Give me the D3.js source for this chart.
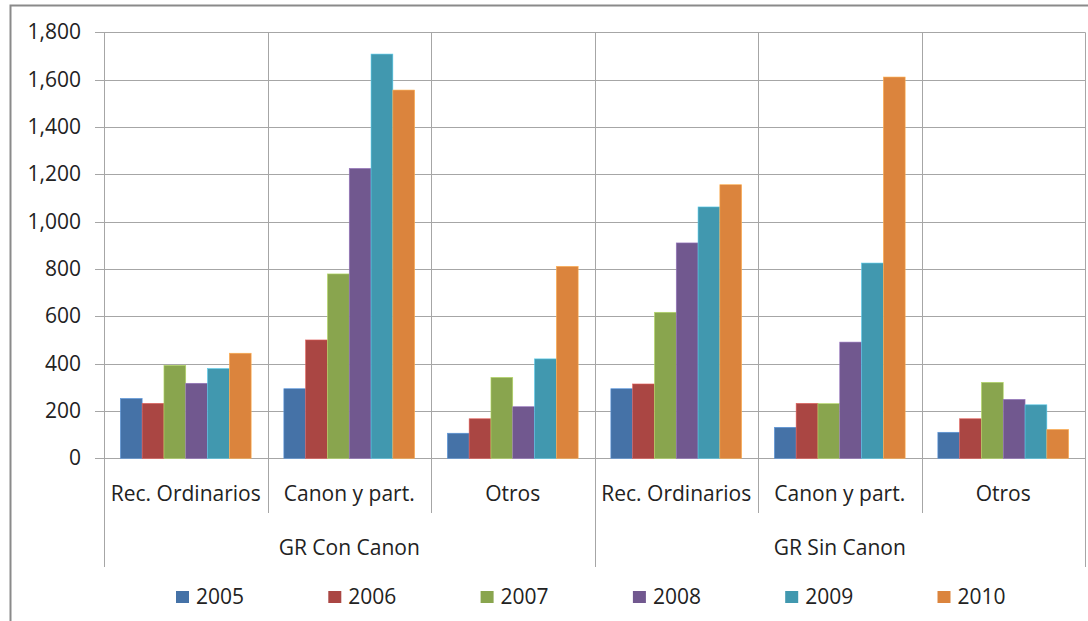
<!DOCTYPE html>
<html>
<head>
<meta charset="utf-8">
<script src="https://cdn.jsdelivr.net/npm/d3@7"></script>
<style>
  body { margin: 0; background: #fff; }
  text { font-family: "Open Sans", sans-serif; fill: #222; }
</style>
</head>
<body>
<div id="chart"></div>
<script>
//data
var groups = ['GR Con Canon', 'GR Sin Canon'];
var subcats = ['Rec. Ordinarios', 'Canon y part.', 'Otros'];
var years = ['2005', '2006', '2007', '2008', '2009', '2010'];
var yTicks = [0, 200, 400, 600, 800, 1000, 1200, 1400, 1600, 1800];

var v2005 = [253, 294, 106, 294, 131, 110];
var v2006 = [232, 500, 167, 314, 232, 167];
var v2007 = [393, 779, 342, 617, 231, 321];
var v2008 = [317, 1225, 218, 910, 491, 249];
var v2009 = [379, 1708, 420, 1062, 825, 226];
var v2010 = [444, 1556, 811, 1156, 1611, 122];
var series = [v2005, v2006, v2007, v2008, v2009, v2010];

var colors = ['#4572A7', '#AA4643', '#89A54E', '#71588F', '#4198AF', '#DB843D'];

//dims
var width = 1088;
var height = 621;
var plotLeft = 104, plotRight = 1085, plotTop = 32.3, plotBottom = 458.3;
var fontSize = '21px';

// one slot per (group, subcat)
var cats = [];
groups.forEach(function(g) {
  subcats.forEach(function(s) { cats.push(g + '|' + s); });
});

var svg = d3.select('#chart')
  .append('svg')
  .attr('width', width)
  .attr('height', height);

// outer frame
svg.append('rect')
  .attr('x', 10.5).attr('y', 5.5)
  .attr('width', 1200).attr('height', 700)
  .attr('fill', 'none')
  .attr('stroke', '#8a8a8a')
  .attr('stroke-width', 2);

var x0 = d3.scaleBand().domain(cats).range([plotLeft, plotRight]);
var x1 = d3.scaleBand().domain(years).range([0, x0.bandwidth()]).paddingOuter(0.75);
var y = d3.scaleLinear().domain([0, 1800]).range([plotBottom, plotTop]);

// horizontal grid
svg.append('g')
  .selectAll('line')
  .data(yTicks)
  .enter()
  .append('line')
  .attr('x1', plotLeft - 9).attr('x2', plotRight)
  .attr('y1', function(d) { return Math.round(y(d)) + 0.5; })
  .attr('y2', function(d) { return Math.round(y(d)) + 0.5; })
  .attr('stroke', '#a6a6a6');

// vertical dividers between categories
var edges = d3.range(cats.length + 1);
svg.append('g')
  .selectAll('line')
  .data(edges)
  .enter()
  .append('line')
  .attr('x1', function(i) { return Math.round(plotLeft + i * x0.step()) + 0.5; })
  .attr('x2', function(i) { return Math.round(plotLeft + i * x0.step()) + 0.5; })
  .attr('y1', plotTop)
  .attr('y2', function(i) { return i % subcats.length === 0 ? 567 : 513; })
  .attr('stroke', '#a6a6a6');

// bars
var bars = svg.append('g');
series.forEach(function(vals, k) {
  bars.selectAll('.s' + k)
    .data(vals)
    .enter()
    .append('rect')
    .attr('class', 's' + k)
    .attr('x', function(d, i) { return x0(cats[i]) + x1(years[k]); })
    .attr('width', x1.bandwidth())
    .attr('y', function(d) { return y(d); })
    .attr('height', function(d) { return y(0) - y(d); })
    .attr('fill', colors[k])
    .attr('stroke', d3.color(colors[k]).brighter(0.8))
    .attr('stroke-width', 0.6);
});

// y axis labels
svg.append('g')
  .selectAll('text')
  .data(yTicks)
  .enter()
  .append('text')
  .attr('x', 81)
  .attr('y', function(d) { return y(d) + 7; })
  .attr('text-anchor', 'end')
  .style('font-size', fontSize)
  .text(d3.format(','));

// category labels
svg.append('g')
  .selectAll('text')
  .data(cats)
  .enter()
  .append('text')
  .attr('x', function(d) { return x0(d) + x0.bandwidth() / 2; })
  .attr('y', 501)
  .attr('text-anchor', 'middle')
  .style('font-size', fontSize)
  .text(function(d) { return d.split('|')[1]; });

// group labels
svg.append('g')
  .selectAll('text')
  .data(groups)
  .enter()
  .append('text')
  .attr('x', function(d, i) { return plotLeft + (i * 3 + 1.5) * x0.step(); })
  .attr('y', 555)
  .attr('text-anchor', 'middle')
  .style('font-size', fontSize)
  .text(function(d) { return d; });

// legend
var legend = svg.append('g')
  .selectAll('g')
  .data(years)
  .enter()
  .append('g')
  .attr('transform', function(d, i) { return 'translate(' + (176 + i * 152.3) + ',591)'; });

legend.append('rect')
  .attr('width', 13).attr('height', 12)
  .attr('fill', function(d, i) { return colors[i]; });

legend.append('text')
  .attr('x', 20).attr('y', 13)
  .style('font-size', fontSize)
  .text(function(d) { return d; });
</script>
</body>
</html>
